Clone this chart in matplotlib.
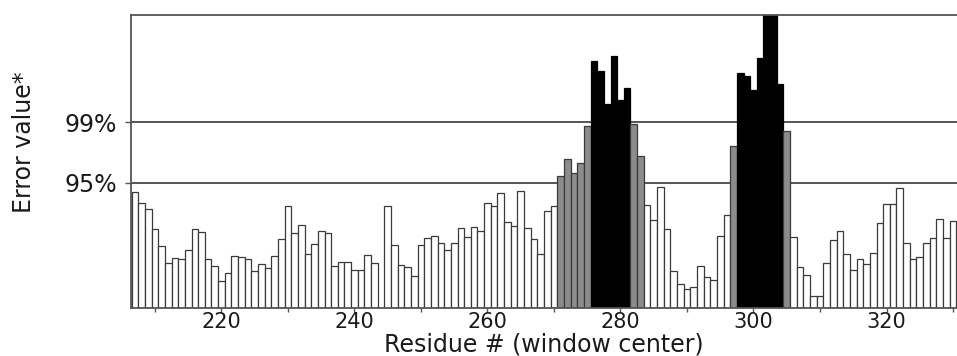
import numpy as np
import matplotlib
matplotlib.use("Agg")
import matplotlib.pyplot as plt
from matplotlib.ticker import MultipleLocator, FuncFormatter

# ---- data -------------------------------------------------------------
residues = list(range(207, 331))
error_values = [
    116, 105, 99, 79, 62, 45, 50, 49, 58, 79,        # 207-216
    76, 49, 42, 27, 35, 52, 51, 49, 37, 44,          # 217-226
    40, 52, 69, 102, 75, 83, 54, 64, 77, 75,         # 227-236
    42, 46, 46, 38, 38, 53, 45, 0, 102, 63,          # 237-246
    43, 41, 32, 63, 70, 72, 65, 58, 65, 80,          # 247-256
    71, 81, 77, 105, 102, 115, 86, 82, 117, 80,      # 257-266
    69, 54, 97, 102, 132, 149, 135, 145, 182.5, 247, # 267-276
    237, 204, 252, 208, 220, 184, 152, 103, 88, 121, # 277-286
    79, 37, 24, 19, 21, 42, 31, 28, 72, 93,          # 287-296
    162, 235, 232, 218, 250, 300, 300, 224, 177, 71, # 297-306
    41, 33, 12, 12, 45, 68, 77, 54, 38, 49,          # 307-316
    44, 55, 85, 104, 104.5, 120, 65, 49, 51, 65,     # 317-326
    70, 89, 70, 87,                                  # 327-330
]
threshold_labels = ["95%", "99%"]
threshold_values = [125, 186]
x_tick_labels = [220, 240, 260, 280, 300, 320]

# ---- figure -----------------------------------------------------------
W, H = 957, 356
fig = plt.figure(figsize=(W / 100, H / 100), dpi=100)
ax = fig.add_axes([131 / W, (H - 308) / H, (W - 131) / W, (308 - 15) / H])

t95, t99 = threshold_values
colors = []
for v in error_values:
    if v >= t99:
        colors.append("#000000")
    elif v >= t95:
        colors.append("#8c8c8c")
    else:
        colors.append("#ffffff")
edges = ["#000000" if c == "#000000" else "#3a3a3a" for c in colors]

for tv in threshold_values:
    ax.axhline(tv, color="#555555", lw=1.4, zorder=1)

ax.bar(residues, error_values, width=1.0, color=colors, edgecolor=edges,
       linewidth=0.9, zorder=2)

ax.set_xlim(206.4, 330.6)
ax.set_ylim(0, 293)

ax.set_yticks(threshold_values)
ax.set_yticklabels(threshold_labels)
ax.xaxis.set_major_locator(MultipleLocator(10))
ax.xaxis.set_major_formatter(
    FuncFormatter(lambda v, p: f"{int(round(v))}" if int(round(v)) in x_tick_labels else ""))

for s in ["left", "top", "bottom"]:
    ax.spines[s].set_color("#555555")
    ax.spines[s].set_linewidth(1.3)
ax.spines["right"].set_visible(False)

ax.tick_params(axis="x", direction="out", length=3, width=1, color="#555555",
               labelsize=15, pad=0, labelcolor="#1a1a1a")
ax.tick_params(axis="y", direction="out", length=4, width=1, color="#555555",
               labelsize=17, pad=6, labelcolor="#1a1a1a")

ax.set_xlabel("Residue # (window center)", fontsize=17, color="#1a1a1a", labelpad=0)
ax.set_ylabel("Error value*", fontsize=17, color="#1a1a1a")
ax.yaxis.set_label_coords(-0.115, 0.567)

fig.savefig("out.png", dpi=100)
